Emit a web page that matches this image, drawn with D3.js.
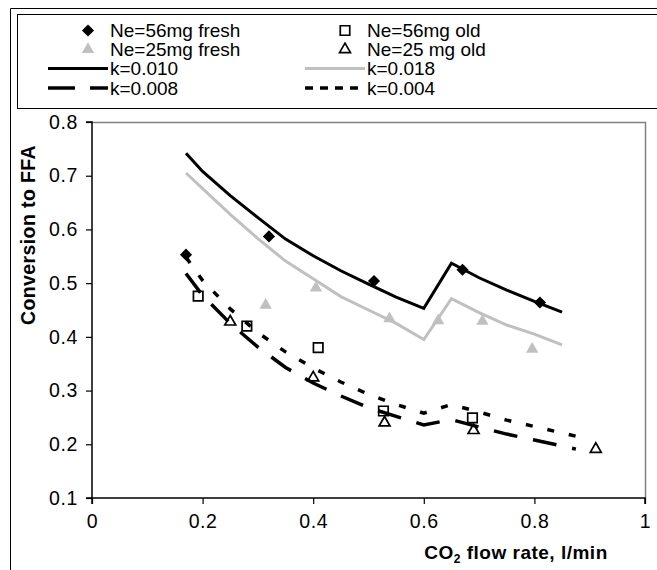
<!DOCTYPE html>
<html>
<head>
<meta charset="utf-8">
<script src="https://cdn.jsdelivr.net/npm/d3@7"></script>
<style>
  body { margin: 0; background: #fff; }
  svg { display: block; font-family: "Liberation Sans", Arial, sans-serif; }
</style>
</head>
<body>
<svg id="chart" width="657" height="570"></svg>
<script>
// measured points
var fresh56X = [0.17, 0.32, 0.51, 0.67, 0.81];
var fresh56Y = [0.553, 0.587, 0.504, 0.525, 0.464];
var old56X = [0.192, 0.28, 0.409, 0.527, 0.688];
var old56Y = [0.476, 0.42, 0.38, 0.262, 0.249];
var fresh25X = [0.314, 0.405, 0.538, 0.626, 0.706, 0.796];
var fresh25Y = [0.459, 0.491, 0.434, 0.43, 0.429, 0.377];
var old25X = [0.25, 0.4, 0.529, 0.69, 0.911];
var old25Y = [0.428, 0.324, 0.24, 0.226, 0.191];

// model curves
var fitX = [0.17, 0.2, 0.25, 0.3, 0.35, 0.4, 0.45, 0.5, 0.55, 0.6, 0.65, 0.7, 0.75, 0.8, 0.85];
var k010 = [0.742, 0.708, 0.663, 0.622, 0.582, 0.551, 0.523, 0.498, 0.474, 0.453, 0.537, 0.51, 0.487, 0.466, 0.446];
var k018 = [0.705, 0.676, 0.628, 0.583, 0.541, 0.508, 0.475, 0.45, 0.425, 0.395, 0.471, 0.445, 0.422, 0.405, 0.385];
var fitX2 = [0.17, 0.2, 0.25, 0.3, 0.35, 0.4, 0.45, 0.5, 0.55, 0.6, 0.65, 0.7, 0.75, 0.8, 0.85, 0.875];
var k008 = [0.518, 0.477, 0.425, 0.381, 0.343, 0.314, 0.29, 0.268, 0.252, 0.236, 0.246, 0.232, 0.219, 0.208, 0.197, 0.191];
var k004 = [0.548, 0.505, 0.452, 0.408, 0.372, 0.342, 0.316, 0.293, 0.274, 0.258, 0.274, 0.26, 0.245, 0.233, 0.221, 0.215];

var xTicks = [0, 0.2, 0.4, 0.6, 0.8, 1];
var yTicks = [0.1, 0.2, 0.3, 0.4, 0.5, 0.6, 0.7, 0.8];

var svg = d3.select("#chart");
var plotL = 92, plotR = 645, plotT = 122, plotB = 498;

var x = d3.scaleLinear().domain([0, 1]).range([plotL, plotR]);
var y = d3.scaleLinear().domain([0.1, 0.8]).range([plotB, plotT]);

var zip = function(xs, ys) {
  return xs.map(function(v, i) { return [v, ys[i]]; });
};

// outer chart frame (only top and left show)
svg.append("path")
  .attr("d", "M10.5,570 V8.5 H657")
  .attr("fill", "none").attr("stroke", "#000").attr("stroke-width", 1);

// plot frame, gray top and right
svg.append("path")
  .attr("d", "M" + plotL + "," + (plotT + 0.5) + " H" + (plotR + 0.5) + " V" + plotB)
  .attr("fill", "none").attr("stroke", "#808080").attr("stroke-width", 1.5);

// axes
var xAxis = svg.append("g")
  .attr("transform", "translate(0," + plotB + ")")
  .call(d3.axisBottom(x).tickValues(xTicks).tickSize(6).tickPadding(10)
    .tickFormat(function(d) { return d === 0 ? "0" : d === 1 ? "1" : d3.format(".1f")(d); }));
var yAxis = svg.append("g")
  .attr("transform", "translate(" + plotL + ",0)")
  .call(d3.axisLeft(y).tickValues(yTicks).tickSize(6).tickPadding(8).tickFormat(d3.format(".1f")));

[xAxis, yAxis].forEach(function(g) {
  g.select(".domain").attr("stroke", "#000").attr("stroke-width", 1.5);
  g.selectAll(".tick line").attr("stroke", "#000").attr("stroke-width", 1.2);
  g.selectAll("text").attr("font-size", 19.5).attr("fill", "#000")
    .attr("letter-spacing", 0.6)
    .attr("font-family", "'Liberation Sans', Arial, sans-serif");
});
xAxis.select(".domain").attr("d", "M" + plotL + ",6V0H" + plotR + "V6");
yAxis.select(".domain").attr("d", "M-6," + plotB + "H0V" + plotT + "H-6");

// axis titles
svg.append("text")
  .attr("transform", "translate(35,235) rotate(-90)")
  .attr("text-anchor", "middle")
  .attr("font-size", 19.5).attr("font-weight", "bold")
  .attr("letter-spacing", 0.4)
  .text("Conversion to FFA");

var xt = svg.append("text")
  .attr("x", 516).attr("y", 559)
  .attr("text-anchor", "middle")
  .attr("font-size", 19).attr("font-weight", "bold")
  .attr("letter-spacing", 0.5);
xt.append("tspan").text("CO");
xt.append("tspan").attr("font-size", 12).attr("dy", 4).text("2");
xt.append("tspan").attr("dy", -4).text(" flow rate, l/min");

// model lines
var line = d3.line().x(function(d) { return x(d[0]); }).y(function(d) { return y(d[1]); });

var fits = [
  { pts: zip(fitX, k010), color: "#000", width: 3, dash: null },
  { pts: zip(fitX, k018), color: "#c0c0c0", width: 3, dash: null },
  { pts: zip(fitX2, k008), color: "#000", width: 3.5, dash: "24,16" },
  { pts: zip(fitX2, k004), color: "#000", width: 3.5, dash: "7,15" }
];
fits.forEach(function(f) {
  svg.append("path")
    .attr("d", line(f.pts))
    .attr("fill", "none")
    .attr("stroke", f.color)
    .attr("stroke-width", f.width)
    .attr("stroke-dasharray", f.dash);
});

// markers
var diamond = d3.symbol().type(d3.symbolSquare).size(74);
var square = d3.symbol().type(d3.symbolSquare).size(90);
var tri = d3.symbol().type(d3.symbolTriangle).size(52);
var triFill = d3.symbol().type(d3.symbolTriangle).size(66);

var markers = [
  { pts: zip(fresh56X, fresh56Y), sym: diamond, rot: 45, fill: "#000", stroke: "none" },
  { pts: zip(fresh25X, fresh25Y), sym: triFill, rot: 0, fill: "#c0c0c0", stroke: "none" },
  { pts: zip(old56X, old56Y), sym: square, rot: 0, fill: "none", stroke: "#000" },
  { pts: zip(old25X, old25Y), sym: tri, rot: 0, fill: "none", stroke: "#000" }
];
markers.forEach(function(m) {
  svg.append("g").selectAll("path")
    .data(m.pts)
    .enter().append("path")
    .attr("d", m.sym())
    .attr("transform", function(d) {
      return "translate(" + x(d[0]) + "," + y(d[1]) + ") rotate(" + m.rot + ")";
    })
    .attr("fill", m.fill)
    .attr("stroke", m.stroke)
    .attr("stroke-width", 1.7);
});

// legend
svg.append("rect")
  .attr("x", 17.5).attr("y", 14.5).attr("width", 650).attr("height", 94)
  .attr("fill", "#fff").attr("stroke", "#000").attr("stroke-width", 1);

var legendRows = [
  { col: 0, row: 0, label: "Ne=56mg fresh", sym: diamond, rot: 45, fill: "#000", stroke: "none" },
  { col: 1, row: 0, label: "Ne=56mg old", sym: square, rot: 0, fill: "none", stroke: "#000" },
  { col: 0, row: 1, label: "Ne=25mg fresh", sym: triFill, rot: 0, fill: "#c0c0c0", stroke: "none" },
  { col: 1, row: 1, label: "Ne=25 mg old", sym: tri, rot: 0, fill: "none", stroke: "#000" },
  { col: 0, row: 2, label: "k=0.010", color: "#000", width: 3, dash: null },
  { col: 1, row: 2, label: "k=0.018", color: "#c0c0c0", width: 3, dash: null },
  { col: 0, row: 3, label: "k=0.008", color: "#000", width: 3.5, dash: "27,15" },
  { col: 1, row: 3, label: "k=0.004", color: "#000", width: 3.5, dash: "8,7" }
];
var rowY = [30.5, 49.5, 68.5, 88];
var colX = [48, 305];

legendRows.forEach(function(r) {
  var cx = colX[r.col], cy = rowY[r.row];
  if (r.sym) {
    svg.append("path")
      .attr("d", r.sym())
      .attr("transform", "translate(" + (cx + 40) + "," + cy + ") rotate(" + r.rot + ")")
      .attr("fill", r.fill).attr("stroke", r.stroke).attr("stroke-width", 1.7);
  } else {
    svg.append("line")
      .attr("x1", cx).attr("x2", cx + 60).attr("y1", cy).attr("y2", cy)
      .attr("stroke", r.color).attr("stroke-width", r.width)
      .attr("stroke-dasharray", r.dash);
  }
  svg.append("text")
    .attr("x", cx + 62).attr("y", cy + 6.5)
    .attr("font-size", 19)
    .text(r.label);
});
</script>
</body>
</html>
